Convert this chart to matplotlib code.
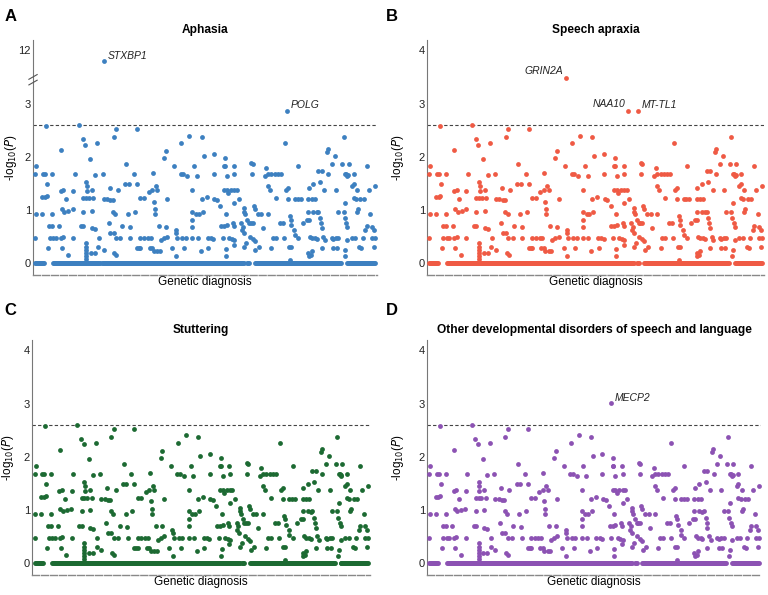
import numpy as np
import matplotlib
matplotlib.use("Agg")
import matplotlib.pyplot as plt

plt.rcParams['font.family'] = ['Liberation Sans', 'DejaVu Sans']

# background genes (index, -log10 P), shared by all four phenotypes
bg_points = [
    (5, 1.82), (2, 1.68), (3, 0.93), (2, 0.47),
    (25, 1.68), (31, 1.68), (52, 1.68),
    (23, 1.25), (30, 1.25), (36, 1.26), (38, 1.49),
    (35, 2.58),
    (22, 0.93), (53, 0.93),
    (43, 0.70), (53, 0.70), (73, 0.70),
    (45, 0.47), (55, 0.47), (63, 0.47), (40, 0.28),
    (78, 2.12),
    (77, 1.36), (85, 1.38), (93, 1.20),
    (80, 1.02), (88, 0.97), (100, 0.99),
    (78, 0.47), (85, 0.49), (81, 0.28), (98, 0.16),
    (113, 1.01), (115, 0.47),
    (119, 1.68), (115, 1.36),
    (132, 2.60),
    (143, 2.33), (151, 2.23), (138, 0.70), (145, 0.70),
    (166, 1.96),
    (153, 1.53), (155, 1.45), (155, 1.36), (153, 1.23), (153, 0.38), (153, 0.31),
    (153, 0.25), (153, 0.19), (153, 0.13), (153, 0.08),
    (145, 1.23), (161, 1.23), (175, 1.23),
    (170, 1.38),
    (145, 0.97), (170, 0.99),
    (170, 0.66), (180, 0.64), (192, 0.47),
    (180, 1.65), (202, 1.67),
    (187, 2.26),
    (168, 0.19), (180, 0.19), (190, 0.31),
    (205, 1.20), (215, 1.20),
    (223, 1.42),
    (225, 1.18), (232, 1.18),
    (220, 0.75), (225, 0.57), (235, 0.57),
    (205, 0.25),
    (235, 2.38), (242, 2.52),
    (233, 0.97), (240, 0.93),
    (242, 0.47), (255, 0.47),
    (237, 0.19), (243, 0.16),
    (248, 1.38),
    (260, 0.70),
    (273, 1.87),
    (270, 1.49), (280, 1.49),
    (278, 0.93), (285, 0.47),
    (283, 0.68),
    (296, 1.68), (298, 0.97),
    (305, 2.53),
    (305, 1.49),
    (305, 0.28), (310, 0.28), (315, 0.28),
    (315, 0.47), (325, 0.47),
    (315, 1.23), (325, 1.23),
    (340, 1.33), (350, 1.38),
    (352, 1.70),
    (337, 0.47), (345, 0.47),
    (343, 0.28), (350, 0.28),
    (355, 1.16), (357, 1.01), (357, 0.93),
    (360, 1.45), (365, 1.38),
    (355, 0.22), (365, 0.22), (373, 0.22),
    (370, 0.70),
    (375, 0.44),
    (385, 1.98), (390, 2.11),
    (395, 1.20),
    (385, 0.47), (395, 0.50),
    (390, 0.69),
    (410, 0.28),
    (415, 1.82),
    (420, 0.63), (422, 0.57),
    (422, 0.13),
    (425, 0.47), (440, 0.47), (450, 0.47),
    (435, 1.68), (442, 1.68),
    (437, 2.26),
    (445, 0.28),
    (460, 2.40),
    (455, 1.64), (475, 1.82),
    (470, 1.38),
    (470, 0.97), (470, 0.82), (470, 0.69), (470, 0.47),
    (480, 0.93), (488, 0.93),
    (483, 1.64),
    (485, 0.47), (495, 0.22),
    (497, 2.38),
    (503, 2.01),
    (498, 1.20), (500, 0.97),
    (512, 1.25),
    (515, 0.47), (525, 0.47), (532, 0.45),
    (517, 0.28),
    (533, 2.06),
    (533, 1.68),
    (535, 1.20), (543, 1.18),
    (553, 1.07),
    (560, 0.47),
    (565, 1.82), (567, 1.82), (567, 1.98),
    (565, 1.38), (573, 1.38), (577, 1.32),
    (570, 0.93),
    (555, 0.70), (565, 0.70), (573, 0.72),
    (573, 1.64),
    (570, 0.26), (569, 0.13),
    (580, 0.47), (588, 0.45),
    (593, 1.82),
    (595, 1.67),
    (585, 1.38), (595, 1.38), (602, 1.38),
    (595, 1.13),
    (590, 0.75), (593, 0.70),
    (595, 0.44), (593, 0.35),
    (610, 1.20),
    (615, 0.75), (620, 0.69), (617, 0.63), (623, 0.57),
    (625, 1.04), (625, 0.97), (627, 0.93),
    (630, 0.38), (625, 0.31),
    (633, 0.82),
    (638, 0.75), (643, 0.75), (650, 0.75),
    (645, 1.89), (650, 1.87), (647, 1.68),
    (640, 0.50), (650, 0.45), (655, 0.41),
    (653, 1.07), (655, 1.01),
    (657, 0.25),
    (665, 0.93), (675, 0.93), (695, 0.93),
    (667, 0.31),
    (680, 0.66),
    (690, 1.79),
    (685, 1.64), (695, 1.68), (705, 1.68), (715, 1.68), (725, 1.68),
    (695, 1.45),
    (700, 1.38),
    (710, 0.47), (720, 0.47),
    (705, 0.28),
    (720, 1.23),
    (735, 1.67),
    (730, 0.75),
    (740, 0.75),
    (743, 0.47),
    (745, 2.26),
    (750, 1.38), (755, 1.42),
    (755, 1.20),
    (760, 0.88), (763, 0.82), (765, 0.72),
    (757, 0.31), (763, 0.31),
    (762, 0.06),
    (773, 0.63), (775, 0.53),
    (775, 1.20), (783, 1.20), (793, 1.21),
    (785, 1.82),
    (785, 0.47),
    (798, 0.75),
    (815, 1.20), (825, 1.20), (835, 1.21),
    (817, 1.42), (830, 1.49),
    (815, 0.97), (830, 0.97), (840, 0.96),
    (810, 0.82), (817, 0.82),
    (820, 0.50), (825, 0.47), (835, 0.47), (840, 0.45),
    (815, 0.19), (817, 0.13), (823, 0.16), (825, 0.22),
    (845, 1.73), (855, 1.73),
    (850, 1.53), (863, 1.38),
    (845, 0.97), (850, 0.85), (853, 0.75), (855, 0.66),
    (860, 0.50), (865, 0.43),
    (855, 0.28),
    (870, 2.09), (873, 2.14),
    (875, 1.68),
    (885, 1.87),
    (885, 0.47), (890, 0.45), (898, 0.47), (905, 0.47),
    (890, 0.28), (900, 0.28),
    (895, 2.01),
    (898, 1.38),
    (905, 0.97),
    (915, 1.87),
    (920, 2.38),
    (925, 1.67), (928, 1.68), (930, 1.64), (933, 1.65),
    (920, 0.97), (923, 0.85), (927, 0.75), (930, 0.69),
    (925, 1.13),
    (935, 1.86),
    (930, 0.44), (925, 0.25), (923, 0.13),
    (945, 1.45), (950, 1.49),
    (950, 1.23), (957, 1.20),
    (950, 1.67),
    (945, 0.47), (955, 0.47),
    (960, 1.38),
    (963, 1.01), (960, 0.97),
    (970, 1.20), (980, 1.20),
    (967, 0.31), (973, 0.28),
    (977, 0.47),
    (985, 0.63),
    (990, 1.82),
    (990, 0.70),
    (995, 1.38),
    (1005, 0.69), (1010, 0.63),
    (1000, 0.93),
    (1005, 0.47), (1013, 0.47),
    (1013, 1.45),
    (1010, 0.31),
]

# stretches of genes with P = 1 (start, end gene index)
zero_runs = [(2, 30), (55, 625), (632, 638), (655, 915), (930, 1015)]

panel_letters = ['A', 'B', 'C', 'D']
panel_titles = ['Aphasia', 'Speech apraxia', 'Stuttering',
                'Other developmental disorders of speech and language']
panel_colors = ['#3d80c0', '#ef5a44', '#1c6a32', '#8c52b3']

# significant genes per panel: (gene, index, -log10 P)
hits = [
    [('STXBP1', 205, 11.8), ('POLG', 751, 2.87)],
    [('GRIN2A', 418, 3.49), ('NAA10', 606, 2.87), ('MT-TL1', 636, 2.87)],
    [],
    [('MECP2', 558, 3.01)],
]
# label placement: 'r' text right of the point, 'l' text left
hit_side = [['r', 'r'], ['l', 'l', 'r'], [], ['r']]

threshold = 2.6

# axes rectangles in figure fractions
rects = [
    [0.043, 0.538, 0.448, 0.395],
    [0.556, 0.538, 0.439, 0.395],
    [0.042, 0.034, 0.440, 0.395],
    [0.556, 0.034, 0.435, 0.395],
]
ylabel_x = [-0.041, -0.062, -0.047, -0.062]
letter_pos = [(0.006, 0.985), (0.503, 0.985), (0.006, 0.49), (0.503, 0.49)]

fig = plt.figure(figsize=(7.68, 5.95), dpi=100)

bg_x = np.array([p[0] for p in bg_points])
bg_y = np.array([p[1] for p in bg_points])
zero_x = np.concatenate([np.arange(a, b + 1, 3) for a, b in zero_runs])

for i in range(4):
    ax = fig.add_axes(rects[i])
    col = panel_colors[i]
    ax.scatter(zero_x, np.zeros_like(zero_x), s=12, color=col, lw=0, zorder=3)
    ax.scatter(bg_x, bg_y, s=12, color=col, lw=0, zorder=3)

    broken = (i == 0)
    for j, (gene, gx, gy) in enumerate(hits[i]):
        yy = gy - 8 if (broken and gy > 4) else gy
        ax.scatter([gx], [yy], s=12, color=col, lw=0, zorder=3)
        if hit_side[i][j] == 'r':
            ax.text(gx + 12, yy + 0.1, gene, style='italic', fontsize=7.5,
                    ha='left', va='center', color='#222222')
        else:
            ax.text(gx - 8, yy + 0.12, gene, style='italic', fontsize=7.5,
                    ha='right', va='center', color='#222222')

    ax.axhline(threshold, color='#444444', lw=0.8, ls=(0, (3, 2)), zorder=1)

    ax.set_xlim(-5, 1020)
    ax.set_ylim(-0.22, 4.2)
    ax.set_xticks([])
    ax.set_yticks([0, 1, 2, 3, 4])
    if broken:
        ax.set_yticklabels(['0', '1', '2', '3', '12'])
    ax.tick_params(axis='y', length=0, labelsize=8, pad=1.5, colors='#222222')
    for s in ['top', 'right']:
        ax.spines[s].set_visible(False)
    ax.spines['left'].set_color('#777777')
    ax.spines['left'].set_linewidth(0.8)
    ax.spines['bottom'].set_color('#888888')
    ax.spines['bottom'].set_linewidth(1.0)
    ax.spines['bottom'].set_linestyle((0, (5, 1.5)))

    if broken:
        # axis break marks
        yb = (3.45 + 0.22) / 4.42
        for dy in (-0.012, 0.012):
            ax.plot([-0.012, 0.012], [yb + dy - 0.01, yb + dy + 0.01],
                    transform=ax.transAxes, color='#555555', lw=0.8,
                    clip_on=False, zorder=5)

    ax.set_ylabel('-log$_{10}$($P$)', fontsize=8.5)
    ax.yaxis.set_label_coords(ylabel_x[i], 0.5)
    ax.set_xlabel('Genetic diagnosis', fontsize=8.5, labelpad=1)
    ax.set_title(panel_titles[i], fontsize=8.6, fontweight='bold', pad=5)
    fig.text(letter_pos[i][0], letter_pos[i][1], panel_letters[i],
             fontsize=12, fontweight='bold', ha='left', va='top')

fig.savefig('out.png', dpi=100)
